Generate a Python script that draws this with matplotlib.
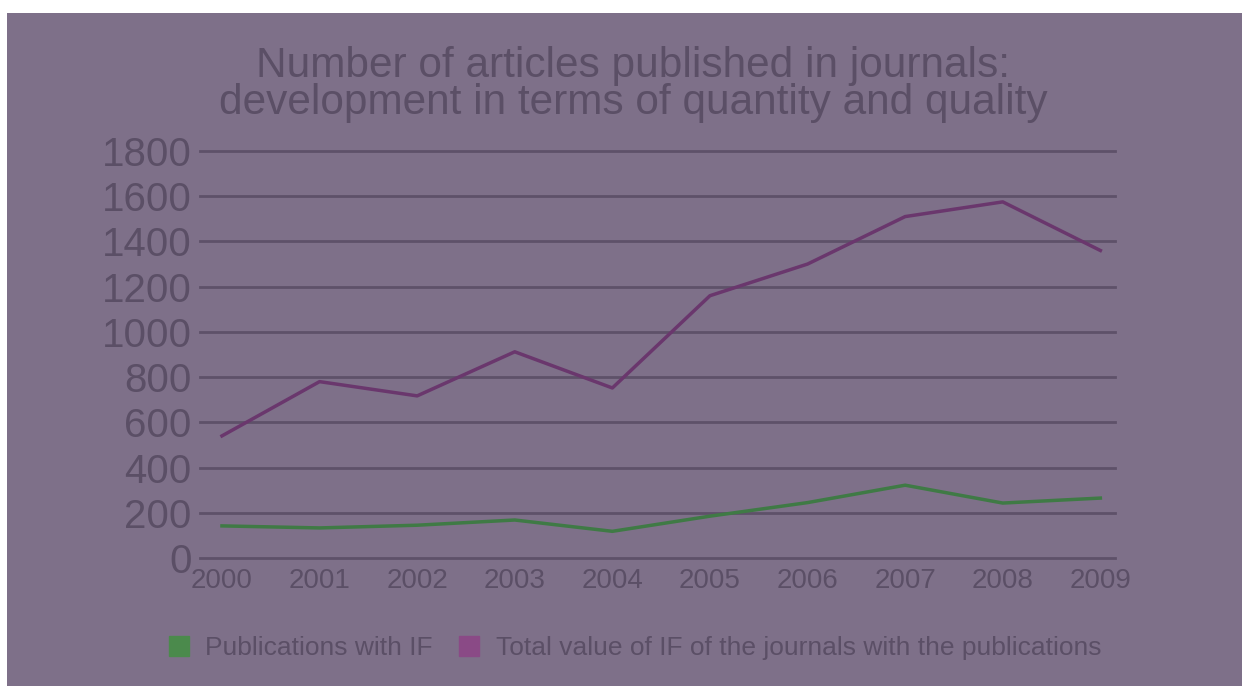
import matplotlib.pyplot as plt
from matplotlib.lines import Line2D
from matplotlib.patches import Rectangle

years = [2000, 2001, 2002, 2003, 2004, 2005, 2006, 2007, 2008, 2009]
pubs_with_if = [142, 133, 145, 168, 118, 185, 245, 322, 243, 265]
total_if = [540, 780, 717, 912, 752, 1160, 1300, 1510, 1575, 1360]
y_ticks = [0, 200, 400, 600, 800, 1000, 1200, 1400, 1600, 1800]

bg = '#7e7089'
txt = '#5b4f66'
grid_col = '#5e5169'
green = '#3f7a45'
purple = '#6a376d'
fam = ['Liberation Sans', 'DejaVu Sans']

fig = plt.figure(figsize=(12.42, 6.86), dpi=100, facecolor='white')
# purple backdrop, leaving a thin white strip top and left
fig.patches.append(Rectangle((7 / 1242, 0), 1, 1 - 13 / 686, transform=fig.transFigure,
                             facecolor=bg, edgecolor='none', zorder=-10))

ax = fig.add_axes([200 / 1242, 1 - 558 / 686, 915 / 1242, 407 / 686])
ax.set_facecolor('none')

ax.plot(years, total_if, color=purple, lw=2.5, solid_joinstyle='round', zorder=3)
ax.plot(years, pubs_with_if, color=green, lw=2.5, solid_joinstyle='round', zorder=3)

ax.set_xlim(1999.775, 2009.15)
ax.set_ylim(0, 1800)
ax.set_yticks(y_ticks)
ax.set_xticks(years)
ax.set_yticklabels([str(v) for v in y_ticks], family=fam, fontsize=29, color=txt)
ax.set_xticklabels([str(v) for v in years], family=fam, fontsize=20, color=txt)
ax.tick_params(length=0)
ax.tick_params(axis='y', pad=6)
ax.tick_params(axis='x', pad=7)
ax.grid(axis='y', color=grid_col, lw=2, zorder=1)
ax.set_axisbelow(True)
for gl in ax.get_ygridlines():
    gl.set_clip_on(False)
for s in ax.spines.values():
    s.set_visible(False)

fig.text(0.510, 0.877, 'Number of articles published in journals:\ndevelopment in terms of quantity and quality',
         ha='center', va='center', family=fam, fontsize=30.5, color=txt, linespacing=0.9)

handles = [Line2D([], [], ls='none', marker='s', ms=14, color='#4b8a4c'),
           Line2D([], [], ls='none', marker='s', ms=14, color='#8a4a86')]
fig.legend(handles, ['Publications with IF', 'Total value of IF of the journals with the publications'],
           loc='center', bbox_to_anchor=(0.511, 0.055), ncol=2, frameon=False,
           prop={'family': fam, 'size': 19}, labelcolor=txt,
           handlelength=0.8, handletextpad=0.6, columnspacing=1.0)

fig.savefig('out.png', dpi=100, facecolor='white')
